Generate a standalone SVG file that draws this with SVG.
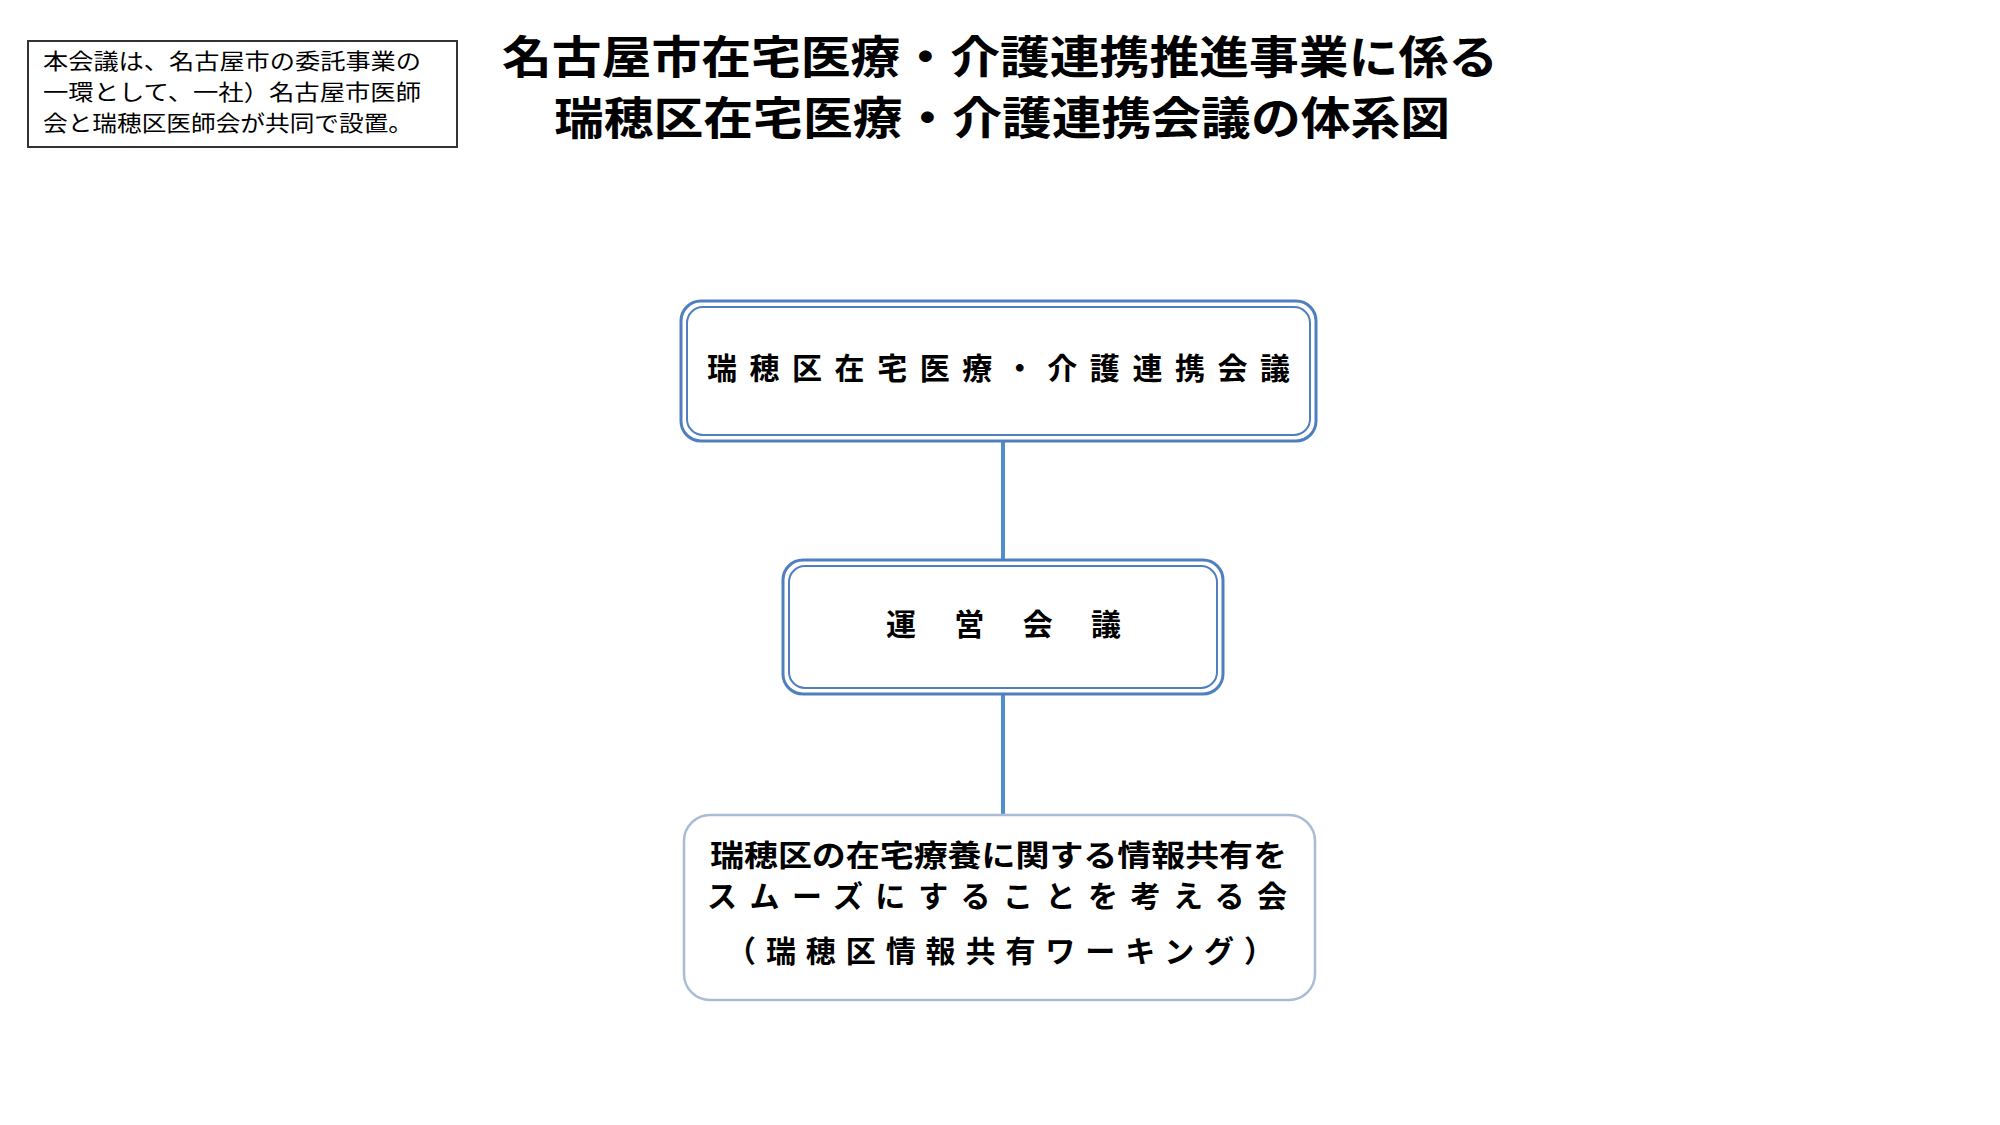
<svg xmlns="http://www.w3.org/2000/svg" width="2000" height="1125" viewBox="0 0 2000 1125">
<style>
.t{font-family:"Noto Sans CJK JP","Noto Sans",sans-serif;fill:#000}
.b{font-weight:bold}
.o{fill:#fff;stroke:#4f7fbf;stroke-width:3}
.i{fill:none;stroke:#4f7fbf;stroke-width:2}
.c{stroke:#4f8fcf;stroke-width:4}
</style>
<rect width="2000" height="1125" fill="#fff"/>
<g id="note">
<rect x="28" y="41" width="429" height="106" fill="#fff" stroke="#333" stroke-width="2"/>
<text class="t" font-size="22" x="43" y="69" textLength="378" lengthAdjust="spacingAndGlyphs">本会議は、名古屋市の委託事業の</text>
<text class="t" font-size="22" x="43" y="100" textLength="378" lengthAdjust="spacingAndGlyphs">一環として、一社）名古屋市医師</text>
<text class="t" font-size="22" x="43" y="131" textLength="370" lengthAdjust="spacingAndGlyphs">会と瑞穂区医師会が共同で設置。</text>
</g>
<g id="title">
<text class="t b" font-size="45" x="502" y="74" textLength="996" lengthAdjust="spacingAndGlyphs">名古屋市在宅医療・介護連携推進事業に係る</text>
<text class="t b" font-size="45" x="554" y="135" textLength="896" lengthAdjust="spacingAndGlyphs">瑞穂区在宅医療・介護連携会議の体系図</text>
</g>
<g id="connectors">
<line class="c" x1="1003" y1="441" x2="1003" y2="560"/>
<line class="c" x1="1003" y1="694" x2="1003" y2="815"/>
</g>
<g id="node1">
<rect class="o" x="681" y="301" width="635" height="140" rx="20"/>
<rect class="i" x="687" y="307" width="623" height="128" rx="16"/>
<text class="t b" font-size="30" x="707" y="379" textLength="583" lengthAdjust="spacing">瑞穂区在宅医療・介護連携会議</text>
</g>
<g id="node2">
<rect class="o" x="783" y="560" width="440" height="134" rx="20"/>
<rect class="i" x="789" y="566" width="428" height="122" rx="16"/>
<text class="t b" font-size="30" x="886" y="635" textLength="235" lengthAdjust="spacing">運営会議</text>
</g>
<g id="node3">
<rect x="684" y="815" width="631" height="185" rx="26" fill="#fff" stroke="#a8bcd4" stroke-width="2.5"/>
<text class="t b" font-size="30" x="710" y="866" textLength="577" lengthAdjust="spacingAndGlyphs">瑞穂区の在宅療養に関する情報共有を</text>
<text class="t b" font-size="30" x="707" y="907" textLength="580" lengthAdjust="spacing">スムーズにすることを考える会</text>
<text class="t b" font-size="30" x="726" y="962" textLength="548" lengthAdjust="spacing">（瑞穂区情報共有ワーキング）</text>
</g>
</svg>
